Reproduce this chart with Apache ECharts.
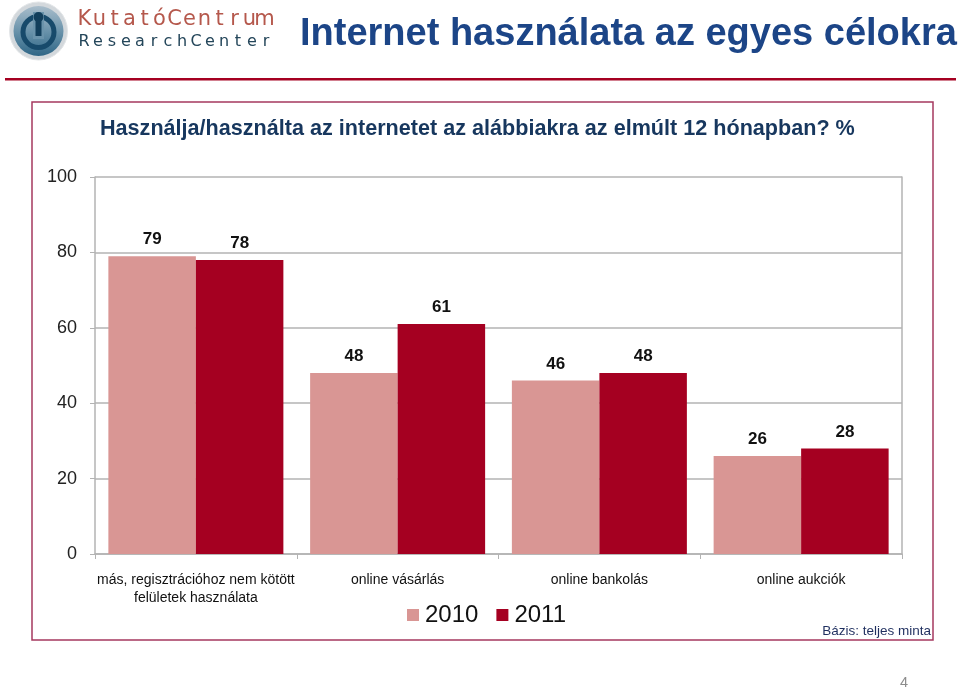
<!DOCTYPE html>
<html>
<head>
<meta charset="utf-8">
<style>
html, body { margin: 0; padding: 0; background: #fff; }
#chart { width: 960px; height: 688px; }
</style>
<script src="https://cdn.jsdelivr.net/npm/echarts@6/dist/echarts.min.js"></script>
</head>
<body>
<div id="chart"></div>
<script>
var categories = ['más, regisztrációhoz nem kötött\nfelületek használata', 'online vásárlás', 'online bankolás', 'online aukciók']
var values2010 = [79, 48, 46, 26]
var values2011 = [78, 61, 48, 28]
var yTicks = [0, 20, 40, 60, 80, 100]

var arial = '"Liberation Sans", Arial, sans-serif'
var axisGrey = '#b3b3b3'

function barLabel() {
    return {
        show: true,
        position: 'top',
        distance: 8,
        fontFamily: arial,
        fontWeight: 'bold',
        fontSize: 17,
        color: '#111'
    }
}

// a logo betui egyenkent, mert ritkitott
function spaced(text, x, y, pitch, size, color) {
    return text.split('').map(function (ch, i) {
        return {
            type: 'text',
            style: { x: x + pitch * i + pitch / 2, y: y, align: 'center', verticalAlign: 'middle', text: ch, fontFamily: '"DejaVu Sans"', fontSize: size, fill: color }
        }
    })
}

var chart = echarts.init(document.getElementById('chart'), null, { renderer: 'canvas' })

chart.setOption({
    animation: false,
    backgroundColor: '#fff',
    textStyle: { fontFamily: arial },
    grid: { left: 95, right: 58, top: 177, bottom: 134, containLabel: false },
    legend: {
        left: 402,
        top: 598,
        itemWidth: 12,
        itemHeight: 12,
        itemGap: 18,
        icon: 'rect',
        textStyle: { fontFamily: arial, fontSize: 24, color: '#111', padding: [0, 0, 0, 1] },
        data: ['2010', '2011']
    },
    xAxis: {
        type: 'category',
        data: categories,
        axisLine: { lineStyle: { color: axisGrey, width: 1.5 } },
        axisTick: { show: true, alignWithLabel: false, length: 5, lineStyle: { color: axisGrey } },
        axisLabel: {
            interval: 0,
            margin: 17,
            fontFamily: arial,
            fontSize: 14,
            lineHeight: 18,
            color: '#111'
        }
    },
    yAxis: [{
        type: 'value',
        min: yTicks[0],
        max: yTicks[yTicks.length - 1],
        interval: 20,
        axisLine: { show: true, lineStyle: { color: axisGrey, width: 1.5 } },
        axisTick: { show: true, length: 5, lineStyle: { color: axisGrey } },
        axisLabel: { fontFamily: arial, fontSize: 18, color: '#222', margin: 18 },
        splitLine: { show: true, lineStyle: { color: axisGrey, width: 1.5 } }
    }, {
        type: 'value',
        position: 'right',
        min: yTicks[0],
        max: yTicks[yTicks.length - 1],
        interval: 20,
        axisLine: { show: true, lineStyle: { color: axisGrey, width: 1.5 } },
        axisTick: { show: false },
        axisLabel: { show: false },
        splitLine: { show: false }
    }],
    series: [{
        name: '2010',
        type: 'bar',
        data: values2010,
        barWidth: 87.5,
        barGap: 0,
        itemStyle: { color: '#d99694' },
        label: barLabel()
    }, {
        name: '2011',
        type: 'bar',
        data: values2011,
        barWidth: 87.5,
        barGap: 0,
        itemStyle: { color: '#a50021' },
        label: barLabel()
    }],
    graphic: [
        // keret a diagram korul
        { type: 'rect', shape: { x: 32, y: 102, width: 901, height: 538 }, style: { fill: 'none', stroke: '#a5385f', lineWidth: 1.5 }, z: -1 },
        // fejlec vonal
        { type: 'rect', shape: { x: 5, y: 78, width: 951, height: 2.5 }, style: { fill: '#a50021' } },
        // logo
        { type: 'circle', shape: { cx: 38.5, cy: 31, r: 29 }, style: { fill: '#d3d8dc', stroke: '#e3e6e8', lineWidth: 1 } },
        {
            type: 'circle',
            shape: { cx: 38.5, cy: 31, r: 25 },
            style: {
                fill: {
                    type: 'linear', x: 0, y: 0, x2: 0, y2: 1,
                    colorStops: [{ offset: 0, color: '#a9bdcb' }, { offset: 0.5, color: '#6a93ab' }, { offset: 1, color: '#2f6686' }]
                }
            }
        },
        { type: 'circle', shape: { cx: 38.5, cy: 32, r: 15.5 }, style: { fill: 'none', stroke: '#174a6b', lineWidth: 5 } },
        { type: 'rect', shape: { x: 33, y: 12, width: 11, height: 27 }, style: { fill: '#6a93ab' } },
        { type: 'circle', shape: { cx: 38.5, cy: 17, r: 5 }, style: { fill: '#123f5c' } },
        { type: 'rect', shape: { x: 35.5, y: 17, width: 6, height: 19 }, style: { fill: '#123f5c' } }
    ].concat(
        spaced('KutatóCentrum', 77, 20, 15, 21, '#b5584c'),
        spaced('ResearchCenter', 77, 42, 14, 16, '#24465a'),
        [
            // cimek
            { type: 'text', style: { x: 300, y: 35, verticalAlign: 'middle', text: 'Internet használata az egyes célokra', fontFamily: arial, fontWeight: 'bold', fontSize: 38, fill: '#1c4587' } },
            { type: 'text', style: { x: 100, y: 118, text: 'Használja/használta az internetet az alábbiakra az elmúlt 12 hónapban? %', fontFamily: arial, fontWeight: 'bold', fontSize: 21.6, fill: '#17375e' } },
            { type: 'text', style: { x: 931, y: 624, align: 'right', text: 'Bázis: teljes minta', fontFamily: arial, fontSize: 13.5, fill: '#1f2f5f' } },
            { type: 'text', style: { x: 900, y: 675, text: '4', fontFamily: arial, fontSize: 14.5, fill: '#8c8c8c' } }
        ]
    )
})

window.addEventListener('resize', function () { chart.resize() })
</script>
</body>
</html>
